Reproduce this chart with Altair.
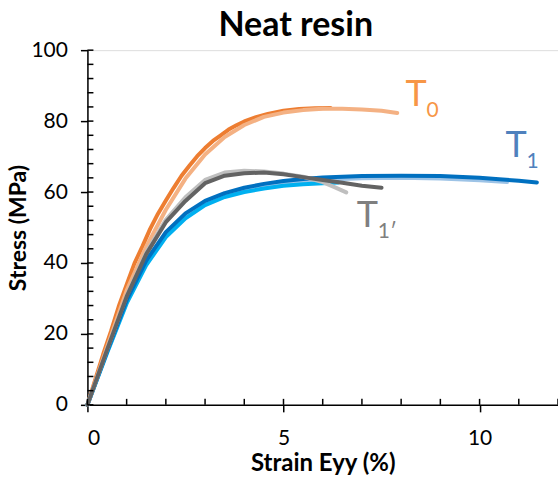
import altair as alt
import pandas as pd

# Tensile curves, strain Eyy (%) vs stress (MPa)
t0_dark_x = [0, 0.2, 0.4, 0.6, 0.8, 1.0, 1.2, 1.4, 1.6, 1.8, 2.0, 2.2, 2.4, 2.6, 2.8, 3.0, 3.2, 3.4, 3.6, 3.8, 4.0, 4.3, 4.6, 5.0, 5.4, 5.8, 6.2]
t0_dark_y = [0, 7.1, 14.2, 20.7, 27.8, 33.9, 39.9, 44.6, 49.6, 53.9, 57.6, 61.2, 64.6, 67.4, 70.1, 72.4, 74.4, 76.0, 77.6, 78.8, 79.9, 81.1, 82.0, 82.9, 83.4, 83.6, 83.7]

t0_light_x = [0, 0.5, 1.0, 1.5, 2.0, 2.5, 3.0, 3.5, 4.0, 4.5, 5.0, 5.5, 6.0, 6.5, 7.0, 7.5, 7.9]
t0_light_y = [0, 16.3, 32.2, 44.6, 55.0, 63.8, 70.6, 75.5, 78.9, 81.2, 82.4, 83.1, 83.5, 83.5, 83.3, 82.9, 82.3]

t1_light_x = [0, 0.5, 1.0, 1.5, 2.0, 2.5, 3.0, 3.5, 4.0, 4.5, 5.0, 5.5, 6.0, 7.0, 8.0, 9.0, 10.0, 10.7]
t1_light_y = [0, 14.8, 29.0, 40.0, 48.0, 53.3, 56.8, 59.0, 60.5, 61.6, 62.5, 63.1, 63.5, 63.9, 64.0, 63.8, 63.3, 62.8]

t1_cyan_x = [0, 0.5, 1.0, 1.5, 2.0, 2.5, 3.0, 3.5, 4.0, 4.5, 5.0, 5.5, 6.0, 6.4]
t1_cyan_y = [0, 14.6, 28.6, 39.4, 47.3, 52.6, 56.3, 58.6, 60.0, 61.0, 61.8, 62.2, 62.5, 62.7]

t1_dark_x = [0, 0.5, 1.0, 1.5, 2.0, 2.5, 3.0, 3.5, 4.0, 4.5, 5.0, 5.5, 6.0, 7.0, 8.0, 9.0, 10.0, 10.5, 11.0, 11.46]
t1_dark_y = [0, 15.0, 29.5, 40.7, 48.7, 54.0, 57.5, 59.7, 61.2, 62.3, 63.1, 63.7, 64.1, 64.5, 64.6, 64.5, 64.0, 63.6, 63.2, 62.7]

t1p_light_x = [0, 0.5, 1.0, 1.5, 2.0, 2.5, 3.0, 3.5, 4.0, 4.5, 5.0, 5.5, 6.0, 6.3, 6.6]
t1p_light_y = [0, 15.6, 30.8, 43.0, 52.2, 58.5, 63.4, 65.5, 66.0, 65.8, 65.2, 64.3, 62.8, 61.4, 59.9]

t1p_dark_x = [0, 0.5, 1.0, 1.5, 2.0, 2.5, 3.0, 3.5, 4.0, 4.5, 5.0, 5.5, 6.0, 6.5, 7.0, 7.5]
t1p_dark_y = [0, 15.5, 30.5, 42.5, 51.5, 57.5, 62.5, 64.6, 65.3, 65.5, 65.0, 64.2, 63.4, 62.6, 61.8, 61.2]

# Drawing order (bottom to top) and stroke colours
curves = [
    ("T0 dark", t0_dark_x, t0_dark_y, "#ED7D31"),
    ("T0 light", t0_light_x, t0_light_y, "#F4B183"),
    ("T1 light", t1_light_x, t1_light_y, "#9DC3E6"),
    ("T1 cyan", t1_cyan_x, t1_cyan_y, "#00B0F0"),
    ("T1 dark", t1_dark_x, t1_dark_y, "#0070C0"),
    ("T1' light", t1p_light_x, t1p_light_y, "#BFBFBF"),
    ("T1' dark", t1p_dark_x, t1p_dark_y, "#636363"),
]

# Series labels: anchor (strain, stress), main text, subscript, colour
label_x = [8.11, 10.66, 6.87]
label_y = [84.3, 69.9, 50.1]
label_main = ["T", "T", "T"]
label_sub = ["0", "1", "1\u2032"]
label_color = ["#F79646", "#4F81BD", "#7F7F7F"]

# Tick positions
x_major = [0, 5, 10]
y_major = [0, 20, 40, 60, 80, 100]
x_minor = list(range(0, 13))
y_minor = list(range(0, 101, 4))

FONT = "Lato"
W, H = 471, 355

x_scale = alt.Scale(domain=[0, 12], nice=False, zero=False)
y_scale = alt.Scale(domain=[0, 100], nice=False)

rows = []
for name, xs, ys, _ in curves:
    for i, (a, b) in enumerate(zip(xs, ys)):
        rows.append({"curve": name, "idx": i, "strain": a, "stress": b})
df = pd.DataFrame(rows)

x_axis = alt.Axis(
    values=x_major, grid=False, tickSize=7, tickColor="black", tickWidth=1.5,
    domainColor="black", domainWidth=1.5, labelFont=FONT, labelFontSize=21,
    labelColor="black", labelPadding=16, title="Strain Eyy (%)", titleFont=FONT,
    titleFontSize=24, titleFontWeight="bold", titleColor="black", titlePadding=3,
)
y_axis = alt.Axis(
    values=y_major, grid=False, tickSize=7, tickColor="black",
    tickWidth=1.5, domainColor="black", domainWidth=1.5, labelFont=FONT,
    labelFontSize=21, labelColor="black", labelPadding=13, title="Stress (MPa)",
    titleFont=FONT, titleFontSize=23, titleFontWeight="bold", titleColor="black",
    titlePadding=0,
)


def xenc(field):
    return alt.X(field, scale=x_scale, axis=x_axis)


def yenc(field):
    return alt.Y(field, scale=y_scale, axis=y_axis)


layers = []
for name, xs, ys, col in curves:
    layers.append(
        alt.Chart(df)
        .transform_filter(alt.datum.curve == name)
        .mark_line(color=col, strokeWidth=4, strokeCap="round", strokeJoin="round")
        .encode(x=xenc("strain:Q"), y=yenc("stress:Q"), order="idx:Q")
    )

# Inward ticks on both axes
xt = alt.Chart(pd.DataFrame({"v": x_minor})).mark_rule(color="black", strokeWidth=1.5).encode(
    x=xenc("v:Q"), y=alt.value(H), y2=alt.value(H - 6)
)
yt = alt.Chart(pd.DataFrame({"v": y_minor})).mark_rule(color="black", strokeWidth=1.5).encode(
    y=yenc("v:Q"), x=alt.value(0), x2=alt.value(6)
)

lab = pd.DataFrame({"x": label_x, "y": label_y, "main": label_main, "sub": label_sub, "c": label_color})
main_txt = alt.Chart(lab).mark_text(font=FONT, fontSize=36, align="left", baseline="alphabetic").encode(
    x=xenc("x:Q"), y=yenc("y:Q"), text="main:N", color=alt.Color("c:N", scale=None),
)
sub_txt = alt.Chart(lab).mark_text(font=FONT, fontSize=21, align="left", baseline="alphabetic", dx=21, dy=11).encode(
    x=xenc("x:Q"), y=yenc("y:Q"), text="sub:N", color=alt.Color("c:N", scale=None),
)

chart = (
    alt.layer(*layers, xt, yt, main_txt, sub_txt)
    .properties(
        width=W, height=H,
        title=alt.TitleParams("Neat resin", font=FONT, fontSize=34, fontWeight="bold",
                              color="black", anchor="middle", dx=-27, dy=10, offset=6,
                              frame="group"),
        autosize=alt.AutoSizeParams(type="none"),
        padding={"left": 87.5, "top": 50, "right": 0, "bottom": 73},
    )
    .configure_view(stroke=None)
    .configure(background="white")
)

chart.save("out.html", embed_options={"renderer": "svg", "actions": False})
